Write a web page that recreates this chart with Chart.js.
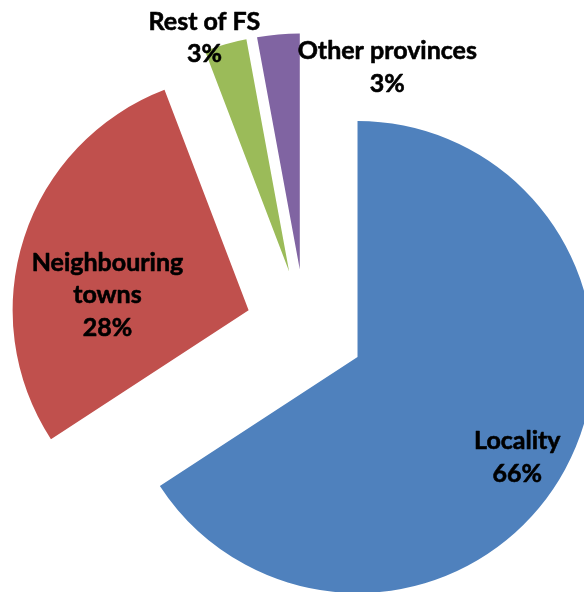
<!DOCTYPE html>
<html>
<head>
<meta charset="utf-8">
<title>Origin of customers</title>
<script src="https://cdn.jsdelivr.net/npm/chart.js@4/dist/chart.umd.min.js"></script>
<style>
  html, body { margin: 0; padding: 0; background: #ffffff; }
  #wrap { position: relative; width: 584px; height: 592px; }
</style>
</head>
<body>
<div id="wrap"><canvas id="c"></canvas></div>
<script>
// Share of customers by origin (percent)
const categories = ['Locality', 'Neighbouring towns', 'Rest of FS', 'Other provinces'];
const shares = [65.8, 28.4, 2.9, 2.9];
const sliceColors = ['#4F81BD', '#C0504D', '#9BBB59', '#8064A2'];
// Category names as they are wrapped on the slice labels
const labelLines = [['Locality'], ['Neighbouring', 'towns'], ['Rest of FS'], ['Other provinces']];

const PIE_RADIUS = 236;
const EXPLODE = 238;          // Chart.js shifts an arc by offset / 4
const LABEL_FONT = 'bold 25px Lato';
const LABEL_LINE = 32.5;

// Label anchor: fraction of the radius along the slice's mid angle, plus a nudge
const labelPlacement = [
  { r: 0.77, dx: 0,   dy: 14 },
  { r: 0.62, dx: -2,  dy: 30 },
  { r: 1.00, dx: -21, dy: -6 },
  { r: 0.86, dx: 106, dy: 0 }
];

// Chart.js enlarges exploded arcs by offset*fix and trims their angles;
// undo that so every slice keeps the same radius and its true sweep.
const evenRadius = {
  id: 'evenRadius',
  afterDatasetUpdate(chart, args) {
    const shift = EXPLODE / 4;
    args.meta.data.forEach(arc => {
      const fix = 1 - Math.sin(Math.min(Math.PI, arc.circumference || 0));
      const grow = shift * fix;
      const R = arc.outerRadius;
      const widen = grow / (2 * Math.PI * R);
      arc.outerRadius = R - grow;
      arc.startAngle -= widen;
      arc.endAngle += widen;
    });
  }
};

// Category name and rounded share drawn on / beside each slice
const sliceLabels = {
  id: 'sliceLabels',
  afterDatasetsDraw(chart) {
    const meta = chart.getDatasetMeta(0);
    const values = chart.data.datasets[0].data;
    const total = values.reduce((a, b) => a + b, 0);
    const ctx = chart.ctx;
    const shift = EXPLODE / 4;
    ctx.save();
    ctx.font = LABEL_FONT;
    ctx.fillStyle = '#000000';
    ctx.strokeStyle = '#000000';
    ctx.lineWidth = 0.6;
    ctx.lineJoin = 'round';
    ctx.textAlign = 'center';
    ctx.textBaseline = 'middle';
    meta.data.forEach((arc, i) => {
      const mid = (arc.startAngle + arc.endAngle) / 2;
      const cx = arc.x + Math.cos(mid) * shift;
      const cy = arc.y + Math.sin(mid) * shift;
      const p = labelPlacement[i];
      const lx = cx + Math.cos(mid) * PIE_RADIUS * p.r + p.dx;
      const ly = cy + Math.sin(mid) * PIE_RADIUS * p.r + p.dy;
      const lines = labelLines[i].concat(Math.round(values[i] / total * 100) + '%');
      lines.forEach((t, k) => {
        const ty = ly + (k - (lines.length - 1) / 2) * LABEL_LINE;
        ctx.fillText(t, lx, ty);
        ctx.strokeText(t, lx, ty);
      });
    });
    ctx.restore();
  }
};

new Chart(document.getElementById('c'), {
  type: 'pie',
  data: {
    labels: categories,
    datasets: [{
      data: shares,
      backgroundColor: sliceColors,
      borderWidth: 0,
      offset: EXPLODE,
      hoverOffset: EXPLODE
    }]
  },
  options: {
    responsive: true,
    maintainAspectRatio: false,
    animation: false,
    events: [],
    radius: PIE_RADIUS,
    layout: { padding: { left: 26.4, top: 65.4, right: 0, bottom: 0 } },
    plugins: {
      legend: { display: false },
      tooltip: { enabled: false },
      title: { display: false }
    }
  },
  plugins: [evenRadius, sliceLabels]
});
</script>
</body>
</html>
